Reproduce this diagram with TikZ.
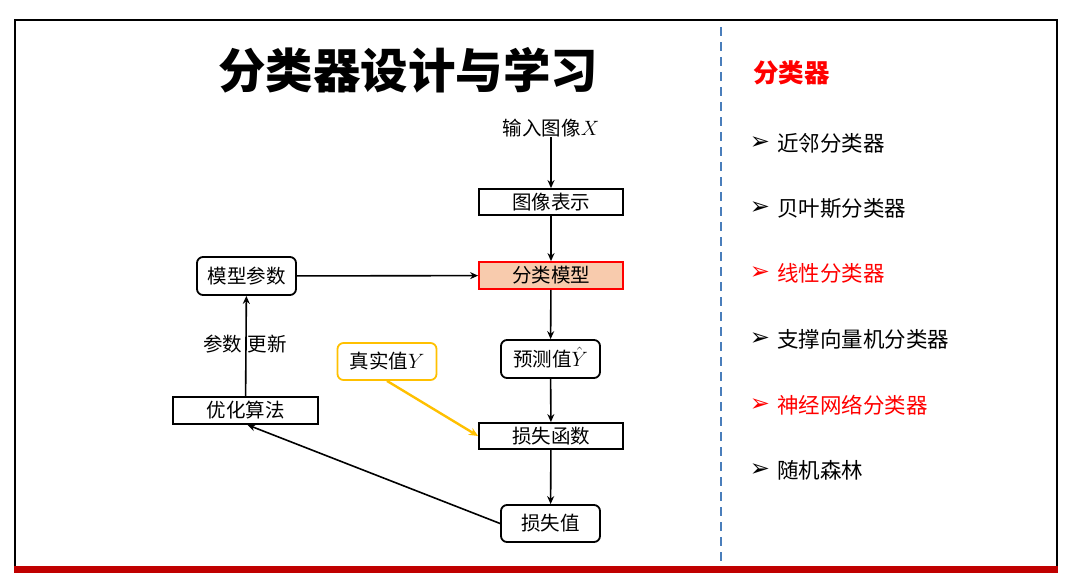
\documentclass[tikz,border=0pt]{standalone}
\usepackage{fontspec}
\setmainfont{Noto Sans CJK SC}
\newfontfamily\symfont{DejaVu Sans}
\usetikzlibrary{arrows.meta}
\definecolor{peach}{HTML}{F8CBAD}
\definecolor{gold}{HTML}{FFC000}
\definecolor{dashblue}{HTML}{4A7EBB}
\definecolor{barred}{HTML}{C00000}
\tikzset{
  sqbox/.style={draw=black, line width=1.8pt, minimum width=144pt, minimum height=26pt, inner sep=0pt, font=\fontsize{19.5}{21}\selectfont},
  rdbox/.style={draw=black, line width=1.8pt, rounded corners=6pt, minimum width=99pt, minimum height=38pt, inner sep=0pt, font=\fontsize{19.5}{21}\selectfont},
  flow/.style={line width=1.6pt, -{Stealth[length=8pt,width=7pt]}},
  item/.style={anchor=west, inner sep=0pt, font=\fontsize{21.5}{23}\selectfont},
  bul/.style={inner sep=0pt, font=\symfont\fontsize{24}{26}\selectfont},
}
\begin{document}
\begin{tikzpicture}[x=1pt,y=-1pt]
\useasboundingbox (0,0) rectangle (1088,573);
% frame
\draw[line width=2pt] (15,20) rectangle (1057,569);
\fill[barred] (14,566) rectangle (1058,573);
\draw[dashblue, line width=2pt, dash pattern=on 9pt off 6pt] (721,27) -- (721,565);
% title
\node[font=\bfseries\fontsize{47.5}{50}\selectfont] (title) at (408,70) {分类器设计与学习};
% flow
\node[inner sep=0pt, font=\fontsize{19.5}{21}\selectfont] (in) at (551,128) {输入图像$X$};
\node[sqbox] (rep) at (551,202) {图像表示};
\node[sqbox, draw=red, fill=peach, minimum height=27pt] (model) at (551,275.5) {分类模型};
\node[rdbox] (params) at (246.5,276) {模型参数};
\node[sqbox, minimum width=145pt, minimum height=27pt] (opt) at (245.5,410.5) {优化算法};
\node[rdbox, draw=gold, minimum height=37pt] (truth) at (387,361.5) {真实值$Y$};
\node[rdbox] (pred) at (550.5,359) {预测值\raisebox{0pt}[0.8em][0pt]{$\hat{Y}$}};
\node[sqbox] (lossf) at (551,436) {损失函数};
\node[rdbox, minimum height=37pt] (lossv) at (550.5,523.5) {损失值};
\node[inner sep=0pt, font=\fontsize{19.5}{21}\selectfont] (upd) at (245,344) {参数\hspace{6pt}更新};
\draw[flow] (in) -- (rep);
\draw[flow] (rep) -- (model);
\draw[flow] (params) -- (model);
\draw[flow] (model) -- (pred);
\draw[flow] (pred) -- (lossf);
\draw[flow, draw=gold, -{Stealth[length=9pt,width=8pt]}, line width=2.4pt] (truth.south) -- (lossf.west);
\draw[flow] (lossf) -- (lossv);
\draw[flow] (lossv.west) -- ([xshift=2pt]opt.south);
\draw[flow] (opt) -- (params);
% right list
\node[anchor=west, inner sep=0pt, text=red, font=\bfseries\fontsize{25.5}{27}\selectfont] (head) at (753,73) {分类器};
\node[bul] (b1) at (760,143) {➢};
\node[item] (i1) at (777,143) {近邻分类器};
\node[bul] (b2) at (760,208) {➢};
\node[item] (i2) at (777,208) {贝叶斯分类器};
\node[bul, text=red] (b3) at (760,273) {➢};
\node[item, text=red] (i3) at (777,273) {线性分类器};
\node[bul] (b4) at (760,339) {➢};
\node[item] (i4) at (777,339) {支撑向量机分类器};
\node[bul, text=red] (b5) at (760,405) {➢};
\node[item, text=red] (i5) at (777,405) {神经网络分类器};
\node[bul] (b6) at (760,470) {➢};
\node[item] (i6) at (777,470) {随机森林};
\end{tikzpicture}
\end{document}
